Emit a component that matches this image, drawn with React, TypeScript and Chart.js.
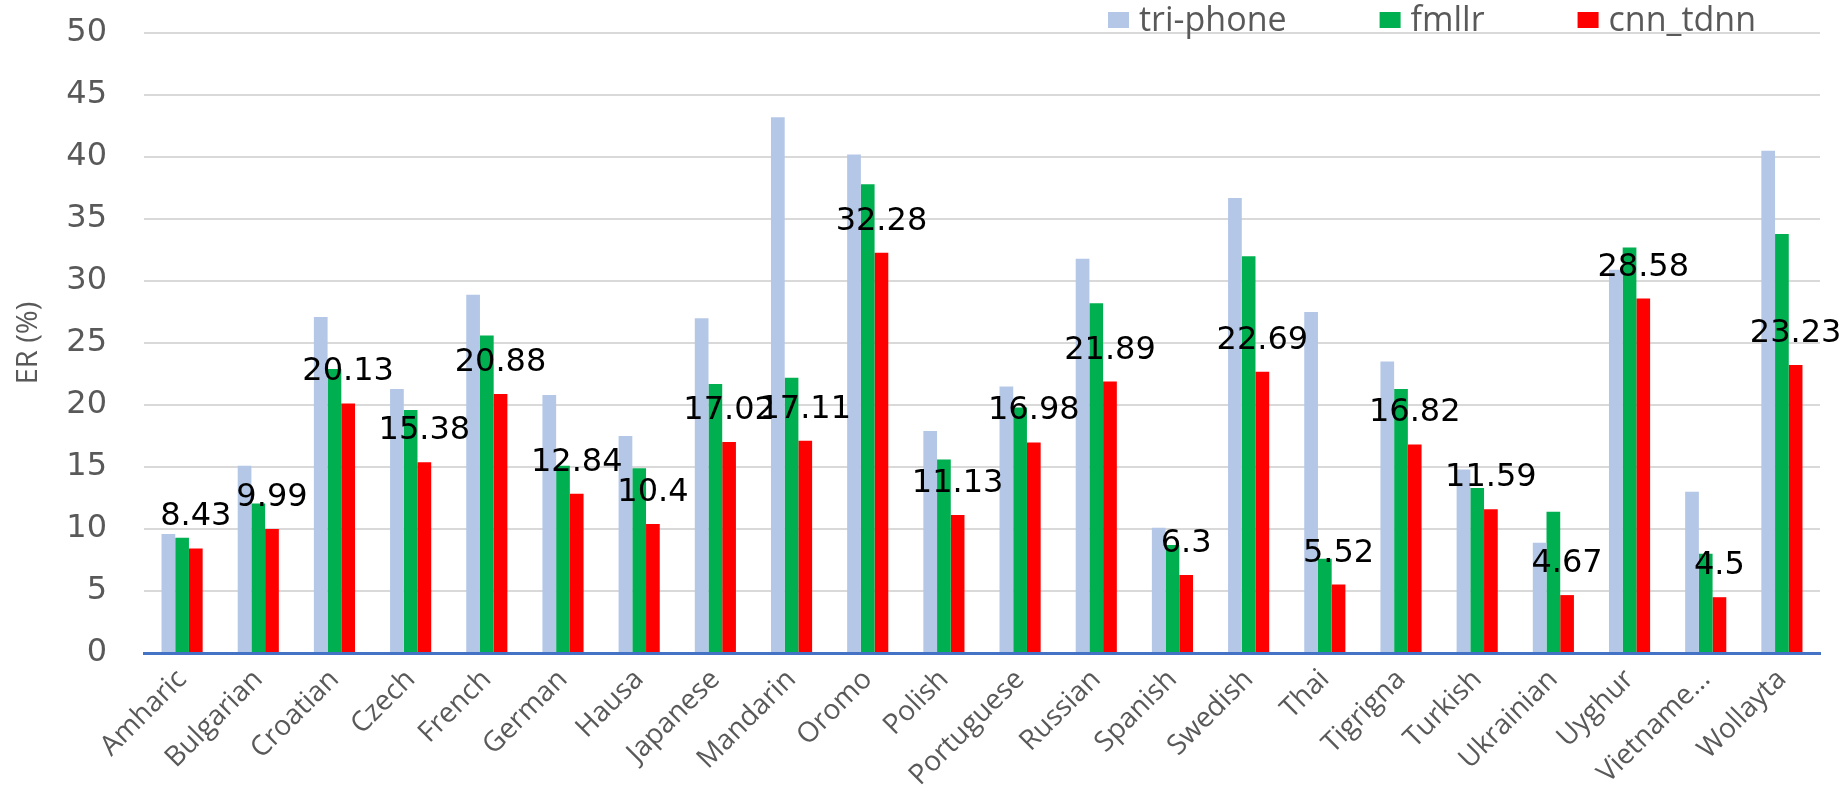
import React, { useEffect, useRef } from "react";
import { Chart, registerables } from "chart.js";

Chart.register(...registerables);

const categories = [
  "Amharic", "Bulgarian", "Croatian", "Czech", "French", "German", "Hausa",
  "Japanese", "Mandarin", "Oromo", "Polish", "Portuguese", "Russian", "Spanish",
  "Swedish", "Thai", "Tigrigna", "Turkish", "Ukrainian", "Uyghur", "Vietname...", "Wollayta",
];

const triPhone = [9.6, 15.1, 27.1, 21.3, 28.9, 20.8, 17.5, 27.0, 43.2, 40.2, 17.9, 21.5, 31.8, 10.1, 36.7, 27.5, 23.5, 14.8, 8.9, 30.9, 13.0, 40.5];
const fmllr = [9.3, 12.05, 22.9, 19.6, 25.6, 15.1, 14.9, 21.7, 22.2, 37.8, 15.6, 19.8, 28.2, 8.7, 32.0, 7.6, 21.3, 13.3, 11.4, 32.7, 8.0, 33.8];
const cnnTdnn = [8.43, 9.99, 20.13, 15.38, 20.88, 12.84, 10.4, 17.02, 17.11, 32.28, 11.13, 16.98, 21.89, 6.3, 22.69, 5.52, 16.82, 11.59, 4.67, 28.58, 4.5, 23.23];

const seriesNames = ["tri-phone", "fmllr", "cnn_tdnn"];
const seriesColors = ["#B4C7E7", "#00B050", "#FF0000"];

const yMin = 0;
const yMax = 50;
const yStep = 5;

const valueLabelPlugin = {
  id: "valueLabels",
  afterDatasetsDraw(chart: any) {
    const ctx = chart.ctx;
    const idx = 2;
    const meta = chart.getDatasetMeta(idx);
    const data = chart.data.datasets[idx].data;
    ctx.save();
    ctx.font = "32px 'DejaVu Sans'";
    ctx.fillStyle = "#000000";
    ctx.textAlign = "center";
    ctx.textBaseline = "alphabetic";
    meta.data.forEach((el: any, i: number) => {
      ctx.fillText(String(data[i]), el.x, el.y - 23);
    });
    ctx.restore();
  },
};

const customLegendPlugin = {
  id: "customLegend",
  afterDraw(chart: any) {
    const ctx = chart.ctx;
    ctx.save();
    ctx.font = "34px 'Open Sans'";
    ctx.textBaseline = "alphabetic";
    ctx.textAlign = "left";
    let x = 1108;
    chart.data.datasets.forEach((ds: any) => {
      ctx.fillStyle = ds.backgroundColor;
      ctx.fillRect(x, 12, 21, 16);
      ctx.fillStyle = "#595959";
      const tx = x + 31;
      ctx.fillText(ds.label, tx, 31);
      const w = ctx.measureText(ds.label).width;
      x = tx + w + 93;
    });
    ctx.restore();
  },
};

export default function App() {
  const ref = useRef<HTMLCanvasElement | null>(null);

  useEffect(() => {
    if (!ref.current) return;
    const chart = new Chart(ref.current, {
      type: "bar",
      data: {
        labels: categories,
        datasets: [triPhone, fmllr, cnnTdnn].map((d, i) => ({
          label: seriesNames[i],
          data: d,
          backgroundColor: seriesColors[i],
          borderWidth: 0,
          categoryPercentage: 0.54,
          barPercentage: 1.0,
        })),
      },
      options: {
        responsive: false,
        animation: false,
        devicePixelRatio: 1,
        layout: { padding: { top: 33, right: 27, bottom: 0, left: 0 } },
        plugins: {
          legend: { display: false },
          tooltip: { enabled: false },
        },
        scales: {
          x: {
            grid: { display: false, drawTicks: false },
            border: { display: true, color: "#4472C4", width: 3 },
            ticks: {
              color: "#595959",
              font: { family: "'Open Sans'", size: 28 },
              maxRotation: 45,
              minRotation: 45,
              autoSkip: false,
              padding: 10,
            },
            afterFit: (s: any) => {
              s.height = 149;
            },
          },
          y: {
            min: yMin,
            max: yMax,
            ticks: {
              stepSize: yStep,
              color: "#595959",
              font: { family: "'DejaVu Sans'", size: 32 },
              padding: 4,
            },
            grid: {
              color: "#D9D9D9",
              lineWidth: 2,
              drawTicks: true,
              tickLength: 33,
              tickColor: "rgba(0,0,0,0)",
            },
            border: { display: false },
            title: {
              display: true,
              text: "ER (%)",
              color: "#595959",
              font: { family: "'Open Sans'", size: 29 },
              padding: { top: 11, bottom: 0 },
            },
            afterFit: (s: any) => {
              s.width = 144;
            },
          },
        },
      },
      plugins: [valueLabelPlugin, customLegendPlugin],
    });
    return () => chart.destroy();
  }, []);

  return (
    <div style={{ position: "absolute", left: 0, top: 0, width: 1847, height: 802, background: "#ffffff" }}>
      <canvas ref={ref} width={1847} height={802} style={{ display: "block" }} />
    </div>
  );
}
